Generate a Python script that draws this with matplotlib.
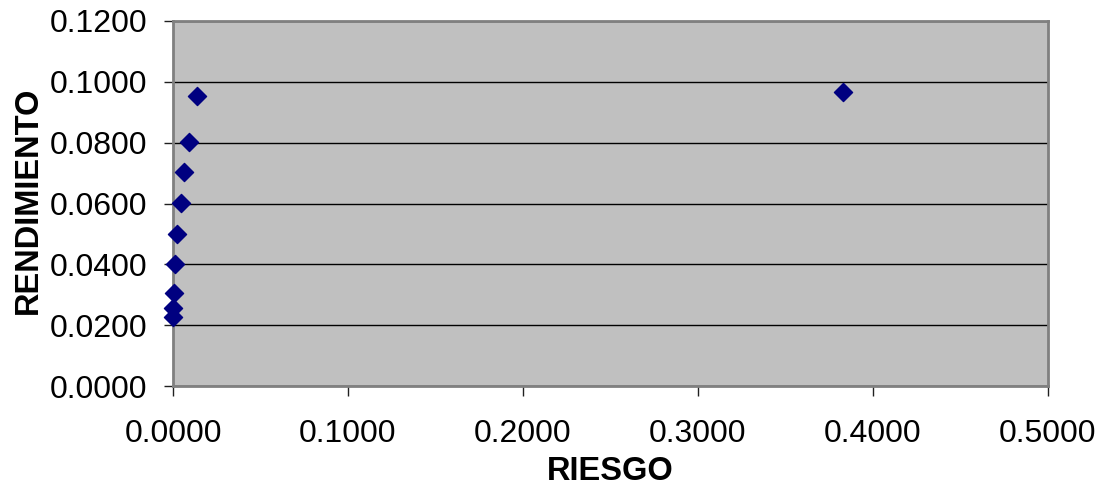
import matplotlib
matplotlib.use("Agg")
import matplotlib.pyplot as plt
from matplotlib.ticker import FormatStrFormatter

riesgo = [0.0135, 0.0090, 0.0063, 0.0044, 0.0025, 0.0013, 0.0006, 0.0002, 0.0002, 0.3829]
rendimiento = [0.0953, 0.0803, 0.0705, 0.0601, 0.0500, 0.0401, 0.0305, 0.0255, 0.0228, 0.0967]
xticks = [0.0, 0.1, 0.2, 0.3, 0.4, 0.5]
yticks = [0.0, 0.02, 0.04, 0.06, 0.08, 0.10, 0.12]

plt.rcParams['font.family'] = ['Liberation Sans', 'DejaVu Sans']
fig = plt.figure(figsize=(11.04, 4.95), dpi=100)
ax = fig.add_axes([173/1104, (495-386)/495, (1048-173)/1104, (386-21)/495])
ax.set_facecolor('#C0C0C0')
ax.set_xlim(0, 0.5)
ax.set_ylim(0, 0.12)
ax.set_xticks(xticks)
ax.set_yticks(yticks)
ax.xaxis.set_major_formatter(FormatStrFormatter('%.4f'))
ax.yaxis.set_major_formatter(FormatStrFormatter('%.4f'))
ax.grid(axis='y', color='black', linewidth=1)
ax.set_axisbelow(True)
ax.scatter(riesgo, rendimiento, marker='D', s=85, color='#000080', zorder=3, clip_on=False)
for s in ax.spines.values():
    s.set_color('#808080')
    s.set_linewidth(2)
ax.tick_params(labelsize=23, direction='out', colors='#202020', labelcolor='black', width=1)
ax.tick_params(axis='x', pad=16, length=7.5)
ax.tick_params(axis='y', pad=12, length=6.5)
ax.set_xlabel('RIESGO', fontsize=23.5, fontweight='bold')
ax.set_ylabel('RENDIMIENTO', fontsize=23.5, fontweight='bold')
ax.xaxis.set_label_coords(0.5, (386-472)/365)
ax.xaxis.label.set_va('center')
ax.yaxis.set_label_coords((28-173)/875, (386-200)/365)
ax.yaxis.label.set_va('center')
ax.yaxis.label.set_ha('center')
fig.savefig('out.png', dpi=100)
